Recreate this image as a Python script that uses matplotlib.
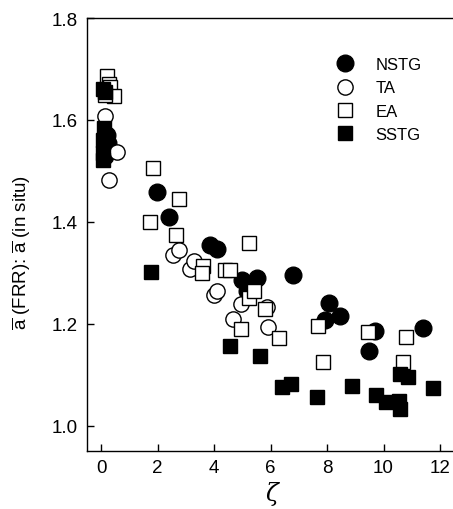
import matplotlib
matplotlib.use('Agg')
import matplotlib.pyplot as plt

plt.rcParams['font.family'] = ['Liberation Sans', 'DejaVu Sans']
plt.rcParams['mathtext.fontset'] = 'custom'
plt.rcParams['mathtext.rm'] = 'Liberation Sans'
plt.rcParams['mathtext.it'] = 'DejaVu Serif:italic'

# NSTG - filled circles
nstg_x = [0.2, 0.25, 0.2, 0.15, 1.99, 2.42, 3.86, 4.1, 4.98, 5.51, 5.16, 6.81,
          8.08, 7.93, 8.46, 9.7, 9.5, 11.41]
nstg_y = [1.57, 1.555, 1.54, 1.53, 1.458, 1.41, 1.354, 1.347, 1.285, 1.29, 1.264, 1.295,
          1.24, 1.207, 1.215, 1.186, 1.147, 1.191]

# TA - open circles
ta_x = [0.15, 0.55, 0.28, 2.54, 2.77, 3.13, 3.3, 4.0, 4.12, 4.66, 4.96, 5.86, 5.92]
ta_y = [1.607, 1.537, 1.482, 1.334, 1.344, 1.308, 1.323, 1.256, 1.264, 1.21, 1.238, 1.232, 1.193]

# EA - open squares
ea_x = [0.22, 0.29, 0.32, 0.47, 0.15, 1.85, 2.76, 1.73, 2.64, 3.6, 3.56, 4.39, 4.57,
        5.24, 5.25, 5.4, 4.95, 5.79, 6.31, 7.69, 7.85, 9.46, 10.8, 10.7]
ea_y = [1.687, 1.671, 1.664, 1.646, 1.648, 1.506, 1.444, 1.399, 1.375, 1.313, 1.3, 1.306, 1.306,
        1.358, 1.251, 1.264, 1.189, 1.228, 1.172, 1.196, 1.124, 1.183, 1.173, 1.124]

# SSTG - filled squares
sstg_x = [0.05, 0.15, 0.1, 0.08, 0.05, 0.05, 1.76, 4.57, 5.64, 6.4, 6.73, 7.66, 8.87,
          9.73, 10.09, 10.56, 10.58, 10.58, 10.88, 11.74]
sstg_y = [1.66, 1.655, 1.585, 1.56, 1.535, 1.522, 1.302, 1.156, 1.137, 1.075, 1.082, 1.057, 1.077,
          1.06, 1.047, 1.049, 1.033, 1.101, 1.095, 1.073]

fig = plt.figure(figsize=(4.53, 5.10), dpi=100)
ax = fig.add_axes([0.192, 0.1137, 0.823, 0.849])

ax.plot(nstg_x, nstg_y, 'o', color='black', markersize=12, label='NSTG')
ax.plot(ta_x, ta_y, 'o', markerfacecolor='white', markeredgecolor='black',
        markeredgewidth=1.0, markersize=11, label='TA')
ax.plot(ea_x, ea_y, 's', markerfacecolor='white', markeredgecolor='black',
        markeredgewidth=1.0, markersize=10, label='EA')
ax.plot(sstg_x, sstg_y, 's', color='black', markersize=10, label='SSTG')

ax.set_xlim(-0.5, 12.7)
ax.set_ylim(0.95, 1.8)
ax.set_xticks([0, 2, 4, 6, 8, 10, 12])
ax.set_yticks([1.0, 1.2, 1.4, 1.6, 1.8])
ax.set_yticklabels(['1.0', '1.2', '1.4', '1.6', '1.8'])
ax.tick_params(direction='in', length=5, width=1, labelsize=13.5)
ax.tick_params(axis='y', pad=7)
ax.tick_params(axis='x', pad=5.5)
ax.spines['right'].set_visible(False)
for s in ['left', 'top', 'bottom']:
    ax.spines[s].set_linewidth(1.0)

ax.set_xlabel(r'$\zeta$', fontsize=17, labelpad=2.5)
ax.set_ylabel(r'$\overline{\mathrm{a}}$ (FRR): $\overline{\mathrm{a}}$ (in situ)', fontsize=13.5)
ax.yaxis.set_label_coords(-0.145, 0.46)

ax.legend(loc='upper left', bbox_to_anchor=(0.63, 0.925), frameon=False, fontsize=12,
          handletextpad=0.8, labelspacing=0.5, borderaxespad=0)

fig.savefig('out.png', dpi=100)
